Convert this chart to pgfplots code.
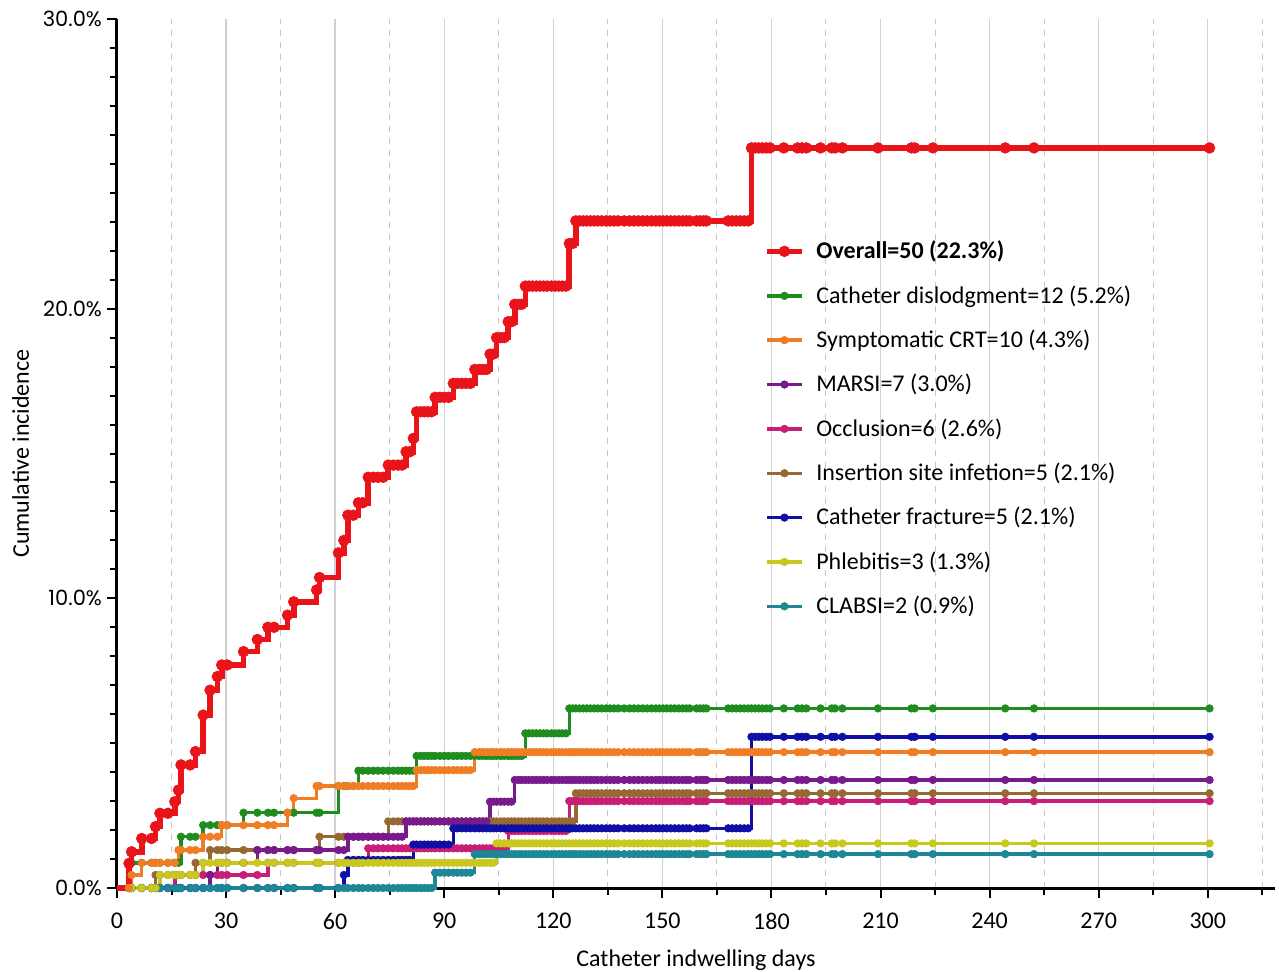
\documentclass[border=0pt]{standalone}
\usepackage{fontspec}
\setmainfont{Carlito}
\newfontfamily\ytickfont{Poppins}
\usepackage{pgfplots}
\usepackage{pgfplotstable}
\pgfplotsset{compat=1.18}

\definecolor{cOv}{RGB}{232,20,26}
\definecolor{cGr}{RGB}{30,140,30}
\definecolor{cOr}{RGB}{240,125,35}
\definecolor{cPu}{RGB}{120,25,140}
\definecolor{cMa}{RGB}{200,30,120}
\definecolor{cBr}{RGB}{150,105,50}
\definecolor{cBl}{RGB}{15,15,165}
\definecolor{cYe}{RGB}{200,200,30}
\definecolor{cTe}{RGB}{30,135,150}

\pgfplotstableread{
t ov gr or pu ma br bl ye te
0     0.00 0.00 0.00 0.00 0.00 0.00 0.00 0.00 0.00
3.3   0.85 0.87 0.00 0.00 0.00 0.00 0.00 0.00 0.00
4.0   1.25 0.87 0.45 0.00 0.00 0.00 0.00 0.00 0.00
6.8   1.71 0.87 0.87 0.00 0.00 0.00 0.00 0.00 0.00
9.5   1.71 0.87 0.87 0.00 0.00 0.00 0.00 0.00 0.00
10.6  2.12 0.87 0.87 0.00 0.00 0.45 0.00 0.00 0.00
11.8  2.58 0.87 0.87 0.00 0.00 0.45 0.00 0.45 0.00
14.0  2.58 0.87 0.87 0.00 0.00 0.45 0.00 0.45 0.00
15.9  2.98 0.87 0.87 0.00 0.45 0.45 0.00 0.45 0.00
16.9  3.38 0.87 1.31 0.00 0.45 0.45 0.00 0.45 0.00
17.6  4.25 1.77 1.31 0.00 0.45 0.45 0.00 0.45 0.00
20.1  4.25 1.77 1.31 0.00 0.45 0.45 0.00 0.45 0.00
21.6  4.71 1.77 1.31 0.00 0.45 0.87 0.00 0.45 0.00
23.7  5.97 2.17 1.77 0.00 0.45 0.87 0.00 0.87 0.00
25.6  6.83 2.17 1.77 0.45 0.45 1.31 0.00 0.87 0.00
27.6  7.30 2.17 1.77 0.87 0.45 1.31 0.00 0.87 0.00
28.8  7.70 2.17 2.17 0.87 0.45 1.31 0.00 0.87 0.00
30.3  7.70 2.17 2.17 0.87 0.45 1.31 0.00 0.87 0.00
34.8  8.16 2.60 2.17 0.87 0.45 1.31 0.00 0.87 0.00
38.6  8.58 2.60 2.17 1.31 0.45 1.31 0.00 0.87 0.00
41.5  9.00 2.60 2.17 1.31 0.87 1.31 0.00 0.87 0.00
43.2  9.00 2.60 2.17 1.31 0.87 1.31 0.00 0.87 0.00
46.9  9.42 2.60 2.60 1.31 0.87 1.31 0.00 0.87 0.00
48.6  9.88 2.60 3.10 1.31 0.87 1.31 0.00 0.87 0.00
54.9  10.29 2.60 3.52 1.31 0.87 1.31 0.00 0.87 0.00
55.7  10.72 2.60 3.52 1.31 0.87 1.77 0.00 0.87 0.00
60.9  11.57 3.52 3.52 1.31 0.87 1.77 0.00 0.87 0.00
62.4  12.00 3.52 3.52 1.31 0.87 1.77 0.45 0.87 0.00
63.5  12.87 3.52 3.52 1.77 0.87 1.77 0.97 0.87 0.00
65.0  12.87 3.52 3.52 1.77 0.87 1.77 0.97 0.87 0.00
66.4  13.30 4.05 3.52 1.77 0.87 1.77 0.97 0.87 0.00
67.6  13.30 4.05 3.52 1.77 0.87 1.77 0.97 0.87 0.00
69.1  14.18 4.05 3.52 1.77 1.37 1.77 0.97 0.87 0.00
70.5  14.18 4.05 3.52 1.77 1.37 1.77 0.97 0.87 0.00
71.8  14.18 4.05 3.52 1.77 1.37 1.77 0.97 0.87 0.00
73.2  14.18 4.05 3.52 1.77 1.37 1.77 0.97 0.87 0.00
74.6  14.60 4.05 3.52 1.77 1.37 2.30 0.97 0.87 0.00
76.0  14.60 4.05 3.52 1.77 1.37 2.30 0.97 0.87 0.00
77.3  14.60 4.05 3.52 1.77 1.37 2.30 0.97 0.87 0.00
78.4  14.60 4.05 3.52 1.77 1.37 2.30 0.97 0.87 0.00
79.5  15.06 4.05 3.52 2.30 1.37 2.30 0.97 0.87 0.00
80.5  15.06 4.05 3.52 2.30 1.37 2.30 0.97 0.87 0.00
81.5  15.52 4.05 3.52 2.30 1.37 2.30 1.50 0.87 0.00
82.4  16.44 4.56 4.07 2.30 1.37 2.30 1.50 0.87 0.00
83.5  16.44 4.56 4.07 2.30 1.37 2.30 1.50 0.87 0.00
84.5  16.44 4.56 4.07 2.30 1.37 2.30 1.50 0.87 0.00
85.5  16.44 4.56 4.07 2.30 1.37 2.30 1.50 0.87 0.00
86.5  16.44 4.56 4.07 2.30 1.37 2.30 1.50 0.87 0.00
87.5  16.94 4.56 4.07 2.30 1.37 2.30 1.50 0.87 0.53
88.8  16.94 4.56 4.07 2.30 1.37 2.30 1.50 0.87 0.53
90.0  16.94 4.56 4.07 2.30 1.37 2.30 1.50 0.87 0.53
91.2  16.94 4.56 4.07 2.30 1.37 2.30 1.50 0.87 0.53
92.5  17.42 4.56 4.07 2.30 1.37 2.30 2.06 0.87 0.53
93.6  17.42 4.56 4.07 2.30 1.37 2.30 2.06 0.87 0.53
94.8  17.42 4.56 4.07 2.30 1.37 2.30 2.06 0.87 0.53
96.0  17.42 4.56 4.07 2.30 1.37 2.30 2.06 0.87 0.53
97.2  17.42 4.56 4.07 2.30 1.37 2.30 2.06 0.87 0.53
98.4  17.90 4.56 4.69 2.30 1.37 2.30 2.06 0.87 1.17
99.6  17.90 4.56 4.69 2.30 1.37 2.30 2.06 0.87 1.17
100.6 17.90 4.56 4.69 2.30 1.37 2.30 2.06 0.87 1.17
101.6 17.90 4.56 4.69 2.30 1.37 2.30 2.06 0.87 1.17
102.6 18.43 4.56 4.69 2.98 1.37 2.30 2.06 0.87 1.17
103.5 18.43 4.56 4.69 2.98 1.37 2.30 2.06 0.87 1.17
104.4 19.00 4.56 4.69 2.98 1.37 2.30 2.06 1.54 1.17
105.5 19.00 4.56 4.69 2.98 1.37 2.30 2.06 1.54 1.17
106.5 19.00 4.56 4.69 2.98 1.37 2.30 2.06 1.54 1.17
107.6 19.55 4.56 4.69 2.98 1.97 2.30 2.06 1.54 1.17
108.5 19.55 4.56 4.69 2.98 1.97 2.30 2.06 1.54 1.17
109.4 20.15 4.56 4.69 3.73 1.97 2.30 2.06 1.54 1.17
110.4 20.15 4.56 4.69 3.73 1.97 2.30 2.06 1.54 1.17
111.3 20.15 4.56 4.69 3.73 1.97 2.30 2.06 1.54 1.17
112.3 20.78 5.34 4.69 3.73 1.97 2.30 2.06 1.54 1.17
113.3 20.78 5.34 4.69 3.73 1.97 2.30 2.06 1.54 1.17
114.3 20.78 5.34 4.69 3.73 1.97 2.30 2.06 1.54 1.17
115.3 20.78 5.34 4.69 3.73 1.97 2.30 2.06 1.54 1.17
116.3 20.78 5.34 4.69 3.73 1.97 2.30 2.06 1.54 1.17
117.3 20.78 5.34 4.69 3.73 1.97 2.30 2.06 1.54 1.17
118.3 20.78 5.34 4.69 3.73 1.97 2.30 2.06 1.54 1.17
119.5 20.78 5.34 4.69 3.73 1.97 2.30 2.06 1.54 1.17
120.5 20.78 5.34 4.69 3.73 1.97 2.30 2.06 1.54 1.17
121.5 20.78 5.34 4.69 3.73 1.97 2.30 2.06 1.54 1.17
122.5 20.78 5.34 4.69 3.73 1.97 2.30 2.06 1.54 1.17
123.5 20.78 5.34 4.69 3.73 1.97 2.30 2.06 1.54 1.17
124.4 22.25 6.20 4.69 3.73 3.00 2.30 2.06 1.54 1.17
125.3 22.25 6.20 4.69 3.73 3.00 2.30 2.06 1.54 1.17
126.2 23.03 6.20 4.69 3.73 3.00 3.27 2.06 1.54 1.17
127.2 23.03 6.20 4.69 3.73 3.00 3.27 2.06 1.54 1.17
128.2 23.03 6.20 4.69 3.73 3.00 3.27 2.06 1.54 1.17
129.2 23.03 6.20 4.69 3.73 3.00 3.27 2.06 1.54 1.17
130.2 23.03 6.20 4.69 3.73 3.00 3.27 2.06 1.54 1.17
131.2 23.03 6.20 4.69 3.73 3.00 3.27 2.06 1.54 1.17
132.2 23.03 6.20 4.69 3.73 3.00 3.27 2.06 1.54 1.17
133.3 23.03 6.20 4.69 3.73 3.00 3.27 2.06 1.54 1.17
134.5 23.03 6.20 4.69 3.73 3.00 3.27 2.06 1.54 1.17
135.6 23.03 6.20 4.69 3.73 3.00 3.27 2.06 1.54 1.17
136.7 23.03 6.20 4.69 3.73 3.00 3.27 2.06 1.54 1.17
137.8 23.03 6.20 4.69 3.73 3.00 3.27 2.06 1.54 1.17
139.5 23.03 6.20 4.69 3.73 3.00 3.27 2.06 1.54 1.17
141.0 23.03 6.20 4.69 3.73 3.00 3.27 2.06 1.54 1.17
142.2 23.03 6.20 4.69 3.73 3.00 3.27 2.06 1.54 1.17
143.4 23.03 6.20 4.69 3.73 3.00 3.27 2.06 1.54 1.17
144.6 23.03 6.20 4.69 3.73 3.00 3.27 2.06 1.54 1.17
145.8 23.03 6.20 4.69 3.73 3.00 3.27 2.06 1.54 1.17
147.0 23.03 6.20 4.69 3.73 3.00 3.27 2.06 1.54 1.17
148.2 23.03 6.20 4.69 3.73 3.00 3.27 2.06 1.54 1.17
149.2 23.03 6.20 4.69 3.73 3.00 3.27 2.06 1.54 1.17
150.2 23.03 6.20 4.69 3.73 3.00 3.27 2.06 1.54 1.17
151.2 23.03 6.20 4.69 3.73 3.00 3.27 2.06 1.54 1.17
152.3 23.03 6.20 4.69 3.73 3.00 3.27 2.06 1.54 1.17
153.4 23.03 6.20 4.69 3.73 3.00 3.27 2.06 1.54 1.17
154.5 23.03 6.20 4.69 3.73 3.00 3.27 2.06 1.54 1.17
155.6 23.03 6.20 4.69 3.73 3.00 3.27 2.06 1.54 1.17
156.6 23.03 6.20 4.69 3.73 3.00 3.27 2.06 1.54 1.17
157.5 23.03 6.20 4.69 3.73 3.00 3.27 2.06 1.54 1.17
159.4 23.03 6.20 4.69 3.73 3.00 3.27 2.06 1.54 1.17
160.4 23.03 6.20 4.69 3.73 3.00 3.27 2.06 1.54 1.17
161.3 23.03 6.20 4.69 3.73 3.00 3.27 2.06 1.54 1.17
162.1 23.03 6.20 4.69 3.73 3.00 3.27 2.06 1.54 1.17
168.1 23.03 6.20 4.69 3.73 3.00 3.27 2.06 1.54 1.17
169.2 23.03 6.20 4.69 3.73 3.00 3.27 2.06 1.54 1.17
170.3 23.03 6.20 4.69 3.73 3.00 3.27 2.06 1.54 1.17
171.4 23.03 6.20 4.69 3.73 3.00 3.27 2.06 1.54 1.17
172.5 23.03 6.20 4.69 3.73 3.00 3.27 2.06 1.54 1.17
173.6 23.03 6.20 4.69 3.73 3.00 3.27 2.06 1.54 1.17
174.5 25.55 6.20 4.69 3.73 3.00 3.27 5.22 1.54 1.17
175.5 25.55 6.20 4.69 3.73 3.00 3.27 5.22 1.54 1.17
176.5 25.55 6.20 4.69 3.73 3.00 3.27 5.22 1.54 1.17
177.5 25.55 6.20 4.69 3.73 3.00 3.27 5.22 1.54 1.17
178.6 25.55 6.20 4.69 3.73 3.00 3.27 5.22 1.54 1.17
179.6 25.55 6.20 4.69 3.73 3.00 3.27 5.22 1.54 1.17
183.4 25.55 6.20 4.69 3.73 3.00 3.27 5.22 1.54 1.17
187.2 25.55 6.20 4.69 3.73 3.00 3.27 5.22 1.54 1.17
188.4 25.55 6.20 4.69 3.73 3.00 3.27 5.22 1.54 1.17
189.6 25.55 6.20 4.69 3.73 3.00 3.27 5.22 1.54 1.17
193.5 25.55 6.20 4.69 3.73 3.00 3.27 5.22 1.54 1.17
196.6 25.55 6.20 4.69 3.73 3.00 3.27 5.22 1.54 1.17
197.5 25.55 6.20 4.69 3.73 3.00 3.27 5.22 1.54 1.17
199.5 25.55 6.20 4.69 3.73 3.00 3.27 5.22 1.54 1.17
209.3 25.55 6.20 4.69 3.73 3.00 3.27 5.22 1.54 1.17
218.5 25.55 6.20 4.69 3.73 3.00 3.27 5.22 1.54 1.17
219.4 25.55 6.20 4.69 3.73 3.00 3.27 5.22 1.54 1.17
224.4 25.55 6.20 4.69 3.73 3.00 3.27 5.22 1.54 1.17
244.3 25.55 6.20 4.69 3.73 3.00 3.27 5.22 1.54 1.17
252.2 25.55 6.20 4.69 3.73 3.00 3.27 5.22 1.54 1.17
300.5 25.55 6.20 4.69 3.73 3.00 3.27 5.22 1.54 1.17
}\kmdata

\begin{document}
\begin{tikzpicture}
\begin{axis}[
  scale only axis, width=579pt, height=434.5pt,
  xmin=0, xmax=318.5, ymin=0, ymax=30,
  axis lines=left,
  axis line style={line width=1.5pt, -},
  xtick={0,30,...,300},
  xticklabels={0,30,60,90,120,150,180,210,240,270,300},
  minor xtick={15,45,...,315},
  ytick={0,10,20,30},
  yticklabels={0.0\%,10.0\%,20.0\%,30.0\%},
  minor y tick num=9,
  tick align=outside,
  major tick length=5pt, minor tick length=3.5pt,
  every tick/.style={line width=1pt, black},
  xmajorgrids, xminorgrids,
  major x grid style={black!18, line width=0.7pt, solid},
  minor x grid style={black!22, line width=0.5pt, dashed},
  xticklabel style={font=\fontsize{12}{14}\selectfont, yshift=-4pt},
  yticklabel style={font=\ytickfont\fontsize{10.5}{12}\selectfont, xshift=1pt},
  xlabel={Catheter indwelling days},
  ylabel={Cumulative incidence},
  label style={font=\fontsize{12}{14}\selectfont},
  xlabel style={yshift=-3pt},
  legend style={at={(axis cs:178,22.49)}, anchor=north west, draw=none, fill=none,
    font=\fontsize{12}{14}\selectfont, row sep=7.9pt, column sep=4pt, inner sep=0pt},
  legend cell align=left,
  clip=false,
]
\addlegendimage{cOv, line width=2.8pt, mark=*, mark size=2.7pt, mark options={line width=0.3pt}}
\addlegendentry{\textbf{Overall=50 (22.3\%)}}
\addlegendimage{cGr, line width=1.7pt, mark=*, mark size=1.9pt, mark options={line width=0.3pt}}
\addlegendentry{Catheter dislodgment=12 (5.2\%)}
\addlegendimage{cOr, line width=1.7pt, mark=*, mark size=1.9pt, mark options={line width=0.3pt}}
\addlegendentry{Symptomatic CRT=10 (4.3\%)}
\addlegendimage{cPu, line width=1.7pt, mark=*, mark size=1.9pt, mark options={line width=0.3pt}}
\addlegendentry{MARSI=7 (3.0\%)}
\addlegendimage{cMa, line width=1.7pt, mark=*, mark size=1.9pt, mark options={line width=0.3pt}}
\addlegendentry{Occlusion=6 (2.6\%)}
\addlegendimage{cBr, line width=1.7pt, mark=*, mark size=1.9pt, mark options={line width=0.3pt}}
\addlegendentry{Insertion site infetion=5 (2.1\%)}
\addlegendimage{cBl, line width=1.7pt, mark=*, mark size=1.9pt, mark options={line width=0.3pt}}
\addlegendentry{Catheter fracture=5 (2.1\%)}
\addlegendimage{cYe, line width=1.7pt, mark=*, mark size=1.9pt, mark options={line width=0.3pt}}
\addlegendentry{Phlebitis=3 (1.3\%)}
\addlegendimage{cTe, line width=1.7pt, mark=*, mark size=1.9pt, mark options={line width=0.3pt}}
\addlegendentry{CLABSI=2 (0.9\%)}

\pgfplotsset{km/.style={const plot, line width=1.7pt, mark=*, mark size=1.9pt,
  mark options={line width=0.3pt}, mark repeat=1, mark phase=2, forget plot}}
\addplot[km, cMa] table[x=t, y=ma]{\kmdata};
\addplot[km, cBr] table[x=t, y=br]{\kmdata};
\addplot[km, cPu] table[x=t, y=pu]{\kmdata};
\addplot[km, cBl] table[x=t, y=bl]{\kmdata};
\addplot[km, cTe] table[x=t, y=te]{\kmdata};
\addplot[km, cYe] table[x=t, y=ye]{\kmdata};
\addplot[km, cGr] table[x=t, y=gr]{\kmdata};
\addplot[km, cOr] table[x=t, y=or]{\kmdata};
\addplot[km, cOv, line width=2.8pt, mark size=2.7pt] table[x=t, y=ov]{\kmdata};
\end{axis}
\pgfresetboundingbox
\path (current axis.south west) ++(-58.5pt,-41.5pt) rectangle ++(639.5pt,485.5pt);
\end{tikzpicture}
\end{document}
